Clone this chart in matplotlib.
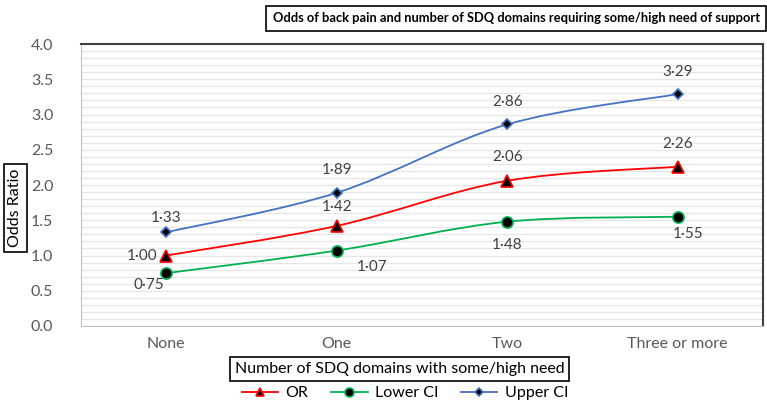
import numpy as np
import matplotlib
matplotlib.use("Agg")
import matplotlib.pyplot as plt
from matplotlib.path import Path
from matplotlib.patches import PathPatch
from matplotlib.ticker import MultipleLocator

plt.rcParams["font.family"] = ["Lato", "DejaVu Sans"]

categories = ["None", "One", "Two", "Three or more"]
odds_ratio = [1.00, 1.42, 2.06, 2.26]
lower_ci = [0.75, 1.07, 1.48, 1.55]
upper_ci = [1.33, 1.89, 2.86, 3.29]

# label offsets in pixels (dx, dy) for each point
or_offsets = [(-24, 0), (0, 19), (0, 24), (0, 23)]
lo_offsets = [(-17, -12), (35, -16), (0, -23), (10, -17)]
up_offsets = [(0, 14), (0, 23), (0, 22), (0, 22)]


def smooth_path(xs, ys):
    # Catmull-Rom style bezier through the points (like Excel smoothed lines)
    pts = np.column_stack([xs, ys]).astype(float)
    verts = [pts[0]]
    codes = [Path.MOVETO]
    n = len(pts)
    for i in range(n - 1):
        p0 = pts[i - 1] if i > 0 else pts[i]
        p1 = pts[i]
        p2 = pts[i + 1]
        p3 = pts[i + 2] if i + 2 < n else pts[i + 1]
        c1 = p1 + (p2 - p0) / 6.0
        c2 = p2 - (p3 - p1) / 6.0
        verts += [c1, c2, p2]
        codes += [Path.CURVE4] * 3
    return Path(verts, codes)


def fmt(v):
    return f"{v:.2f}".replace(".", "·")


fig = plt.figure(figsize=(7.67, 4.08), dpi=100)
ax = fig.add_axes([0.1056, 0.201, 0.889, 0.691])

x = np.arange(len(categories))
series = [
    (odds_ratio, "OR", "#FF0000", "^", 8, or_offsets),
    (lower_ci, "Lower CI", "#00B050", "o", 8, lo_offsets),
    (upper_ci, "Upper CI", "#4472C4", "D", 5, up_offsets),
]

for vals, name, col, mk, ms, offs in series:
    ax.add_patch(PathPatch(smooth_path(x, vals), facecolor="none",
                           edgecolor=col, lw=1.3, zorder=3))
    ax.plot(x, vals, linestyle="none", color=col, marker=mk, ms=ms,
            markerfacecolor="black", markeredgecolor=col, markeredgewidth=1.2,
            label=name, zorder=4)
    for xi, v, (dx, dy) in zip(x, vals, offs):
        ax.annotate(fmt(v), (xi, v), xytext=(dx, dy), textcoords="offset pixels",
                    ha="center", va="center", fontsize=11, color="#404040")

ax.set_xlim(-0.5, 3.5)
ax.set_ylim(0, 4.0)
ax.set_xticks(x)
ax.set_xticklabels(categories)
ax.yaxis.set_major_locator(MultipleLocator(0.5))
ax.yaxis.set_minor_locator(MultipleLocator(0.1))
ax.yaxis.set_major_formatter(matplotlib.ticker.FormatStrFormatter("%.1f"))
ax.grid(axis="y", which="both", color="#E6E6E6", lw=0.9)
ax.set_axisbelow(True)
ax.tick_params(axis="both", which="both", length=0, labelsize=11.5,
               labelcolor="#595959")
ax.tick_params(axis="y", pad=20)
ax.tick_params(axis="x", pad=8)
ax.spines["left"].set_color("#BFBFBF")
ax.spines["bottom"].set_color("#BFBFBF")
ax.spines["top"].set_color("#404040")
ax.spines["right"].set_color("#404040")
ax.spines["top"].set_linewidth(1.5)
ax.spines["right"].set_linewidth(1.5)

box = dict(boxstyle="square,pad=0.3", facecolor="white", edgecolor="black", lw=1.2)
title = fig.text(0.673, 0.955,
                 "Odds of back pain and number of SDQ domains requiring some/high need of support",
                 ha="center", va="center", fontsize=11.5, fontweight="bold",
                 bbox=dict(box, boxstyle="square,pad=0.5"),
                 family=["Liberation Sans Narrow", "Lato"])
# shrink the title so it fits the same width as the original box
r = fig.canvas.get_renderer()
w = title.get_window_extent(r).width
title.set_fontsize(11.5 * 486 / w)

fig.text(0.521, 0.096, "Number of SDQ domains with some/high need",
         ha="center", va="center", fontsize=11.5, bbox=box)
fig.text(0.02, 0.49, "Odds Ratio", rotation=90, ha="center", va="center",
         fontsize=11.5, bbox=box)

leg = ax.legend(loc="center", bbox_to_anchor=(0.475, -0.238), ncol=3, frameon=False,
                fontsize=11.5, handlelength=2.3, handletextpad=0.45,
                columnspacing=1.4)
for h, (vals, name, col, mk, ms, offs) in zip(leg.legend_handles, series):
    h.set_linestyle("-")
    h.set_linewidth(1.3)
    h.set_color(col)
    h.set_markerfacecolor("black")
    h.set_markeredgecolor(col)
    h.set_markersize(ms * 0.8)

fig.savefig("out.png", dpi=100)
